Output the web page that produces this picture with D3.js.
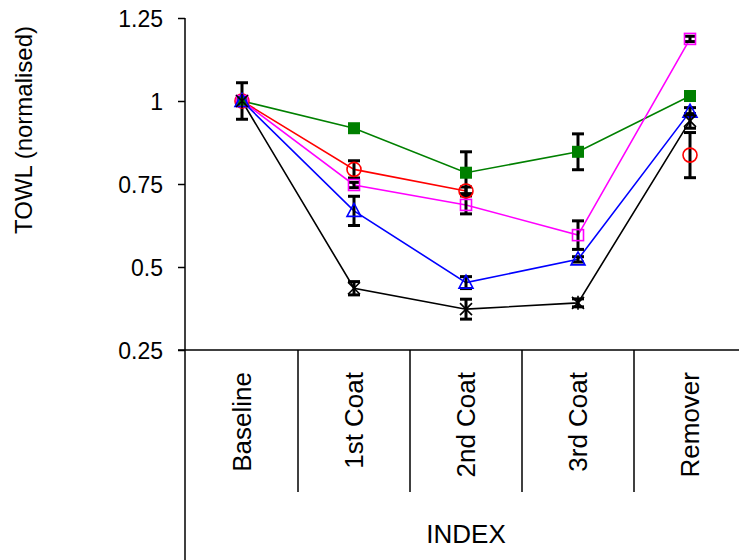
<!DOCTYPE html>
<html>
<head>
<meta charset="utf-8">
<script src="https://cdn.jsdelivr.net/npm/d3@7"></script>
<style>
  html, body { margin: 0; padding: 0; background: #fff; }
  svg { display: block; }
  text { font-family: "Liberation Sans", Arial, sans-serif; fill: #000; }
</style>
</head>
<body>
<svg id="chart" width="739" height="560"></svg>
<script>
// ---- data ----
const categories = ["Baseline", "1st Coat", "2nd Coat", "3rd Coat", "Remover"];
const yTickValues = [0.25, 0.5, 0.75, 1, 1.25];
const yTickLabels = ["0.25", "0.5", "0.75", "1", "1.25"];

const greenValues   = [1, 0.918, 0.784, 0.847, 1.015];
const greenErrors   = [0, 0.004, 0.063, 0.054, 0.012];
const redValues     = [1, 0.794, 0.729, null, 0.837];
const redErrors     = [0, 0.026, 0.012, null, 0.068];
const magentaValues = [1, 0.747, 0.687, 0.596, 1.187];
const magentaErrors = [0, 0.008, 0.027, 0.043, 0.008];
const blueValues    = [1, 0.669, 0.453, 0.523, 0.968];
const blueErrors    = [0, 0.044, 0.018, 0.008, 0.012];
const blackValues   = [1, 0.436, 0.373, 0.392, 0.940];
const blackErrors   = [0.055, 0.020, 0.030, 0.012, 0.022];

const series = [
  { name: "green",   color: "#008000", marker: "filledSquare", values: greenValues,   errors: greenErrors },
  { name: "red",     color: "#ff0000", marker: "circle",       values: redValues,     errors: redErrors },
  { name: "magenta", color: "#ff00ff", marker: "square",       values: magentaValues, errors: magentaErrors },
  { name: "blue",    color: "#0000ff", marker: "triangle",     values: blueValues,    errors: blueErrors },
  { name: "black",   color: "#000000", marker: "star",         values: blackValues,   errors: blackErrors }
];

// ---- layout ----
const svg = d3.select("#chart");
const x = d3.scaleBand().domain(categories).range([186, 746]).padding(0);
const y = d3.scaleLinear().domain([0.25, 1.25]).range([350, 18]);
const cx = c => x(c) + x.bandwidth() / 2;

// y axis
const yAxis = d3.axisLeft(y)
  .tickValues(yTickValues)
  .tickFormat((d, i) => yTickLabels[i])
  .tickSize(7)
  .tickPadding(15);
const gy = svg.append("g").attr("transform", "translate(185,0)").call(yAxis);
gy.select(".domain").remove();
gy.selectAll(".tick line").attr("stroke", "#000").attr("stroke-width", 1.5);
gy.selectAll(".tick text").attr("font-size", 23).attr("font-family", "Liberation Sans, Arial, sans-serif").attr("dy", "0.36em");

// y axis line (extends down through the category box)
svg.append("line").attr("x1", 185).attr("x2", 185).attr("y1", y(1.25)).attr("y2", 560)
  .attr("stroke", "#000").attr("stroke-width", 1.5);
// x axis line
svg.append("line").attr("x1", 178).attr("x2", 739).attr("y1", y(0.25)).attr("y2", y(0.25))
  .attr("stroke", "#000").attr("stroke-width", 1.5);

// category separators
svg.selectAll("line.sep").data(categories.slice(1)).enter().append("line")
  .attr("class", "sep")
  .attr("x1", d => x(d)).attr("x2", d => x(d))
  .attr("y1", y(0.25)).attr("y2", 492)
  .attr("stroke", "#000").attr("stroke-width", 1.5);

// category labels
svg.selectAll("text.cat").data(categories).enter().append("text")
  .attr("class", "cat")
  .attr("transform", d => `translate(${cx(d)},372) rotate(-90)`)
  .attr("text-anchor", "end")
  .attr("dy", "0.36em")
  .attr("font-size", 26)
  .text(d => d);

// axis titles
svg.append("text")
  .attr("transform", "translate(32,130) rotate(-90)")
  .attr("text-anchor", "middle")
  .attr("font-size", 24)
  .text("TOWL (normalised)");
svg.append("text")
  .attr("x", (x.range()[0] + x.range()[1]) / 2)
  .attr("y", 543)
  .attr("text-anchor", "middle")
  .attr("font-size", 26)
  .text("INDEX");

// ---- series lines ----
const line = d3.line()
  .defined(d => d.v != null)
  .x(d => cx(d.c))
  .y(d => y(d.v));

series.forEach(s => {
  const pts = categories.map((c, i) => ({ c, v: s.values[i], e: s.errors[i] }));
  svg.append("path").datum(pts)
    .attr("d", line)
    .attr("fill", "none")
    .attr("stroke", s.color)
    .attr("stroke-width", 1.6);
});

// ---- error bars (black) ----
series.forEach(s => {
  const pts = categories.map((c, i) => ({ c, v: s.values[i], e: s.errors[i] }))
    .filter(d => d.v != null && d.e > 0);
  const g = svg.append("g");
  pts.forEach(d => {
    const xx = cx(d.c), y1 = y(d.v + d.e), y2 = y(d.v - d.e);
    g.append("line").attr("x1", xx).attr("x2", xx).attr("y1", y1).attr("y2", y2)
      .attr("stroke", "#000").attr("stroke-width", 3);
    [y1, y2].forEach(yy => g.append("line")
      .attr("x1", xx - 6).attr("x2", xx + 6).attr("y1", yy).attr("y2", yy)
      .attr("stroke", "#000").attr("stroke-width", 3));
  });
});

// ---- markers ----
series.forEach(s => {
  const pts = categories.map((c, i) => ({ c, v: s.values[i] })).filter(d => d.v != null);
  const g = svg.append("g");
  pts.forEach(d => {
    const xx = cx(d.c), yy = y(d.v);
    if (s.marker === "filledSquare") {
      g.append("rect").attr("x", xx - 6).attr("y", yy - 6).attr("width", 12).attr("height", 12)
        .attr("fill", s.color);
    } else if (s.marker === "square") {
      g.append("rect").attr("x", xx - 5.5).attr("y", yy - 5.5).attr("width", 11).attr("height", 11)
        .attr("fill", "none").attr("stroke", s.color).attr("stroke-width", 1.6);
    } else if (s.marker === "circle") {
      g.append("circle").attr("cx", xx).attr("cy", yy).attr("r", 7)
        .attr("fill", "none").attr("stroke", s.color).attr("stroke-width", 1.6);
    } else if (s.marker === "triangle") {
      g.append("path")
        .attr("d", `M${xx},${yy - 7.5} L${xx + 7},${yy + 5.5} L${xx - 7},${yy + 5.5} Z`)
        .attr("fill", "none").attr("stroke", s.color).attr("stroke-width", 1.6);
    } else if (s.marker === "star") {
      g.append("path")
        .attr("d", `M${xx - 6},${yy - 6} L${xx + 6},${yy + 6} M${xx + 6},${yy - 6} L${xx - 6},${yy + 6} M${xx},${yy - 7} L${xx},${yy + 7}`)
        .attr("fill", "none").attr("stroke", s.color).attr("stroke-width", 1.6);
    }
  });
});
</script>
</body>
</html>
